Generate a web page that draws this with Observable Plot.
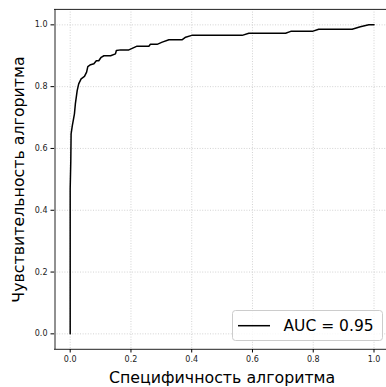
<!DOCTYPE html>
<html>
<head>
<meta charset="utf-8">
<script src="https://cdn.jsdelivr.net/npm/d3@7"></script>
<script src="https://cdn.jsdelivr.net/npm/@observablehq/plot@0.6"></script>
<style>
  html, body { margin: 0; padding: 0; background: #fff; }
  #chart { width: 386px; height: 387px; overflow: hidden; }
  svg { font-family: "DejaVu Sans", sans-serif; }
</style>
</head>
<body>
<div id="chart"></div>
<script>
const fpr = [0, 0, 0.002, 0.003, 0.007, 0.014, 0.017, 0.023, 0.028, 0.036, 0.047, 0.054, 0.058, 0.067, 0.078, 0.086, 0.094, 0.102, 0.111, 0.133, 0.149, 0.152, 0.166, 0.193, 0.204, 0.22, 0.259, 0.264, 0.286, 0.303, 0.325, 0.369, 0.38, 0.40, 0.566, 0.588, 0.709, 0.726, 0.797, 0.818, 0.928, 0.955, 0.983, 1.0];
const tpr = [0, 0.47, 0.56, 0.647, 0.674, 0.712, 0.744, 0.787, 0.809, 0.825, 0.833, 0.847, 0.865, 0.871, 0.874, 0.884, 0.884, 0.895, 0.90, 0.90, 0.906, 0.917, 0.919, 0.919, 0.924, 0.931, 0.931, 0.937, 0.937, 0.944, 0.952, 0.952, 0.96, 0.966, 0.966, 0.973, 0.973, 0.979, 0.979, 0.986, 0.986, 0.994, 1.0, 1.0];
const ticks = [0, 0.2, 0.4, 0.6, 0.8, 1.0];
const xLabel = "Специфичность алгоритма";
const yLabel = "Чувствительность алгоритма";
const legendLabel = "AUC = 0.95";

const data = fpr.map((f, i) => ({fpr: f, tpr: tpr[i]}));

function legendMark(index, scales, values, dimensions) {
  const g = d3.create("svg:g");
  const x0 = 232.5, y0 = 310.5, w = 150, h = 30;
  g.append("rect").attr("x", x0).attr("y", y0).attr("width", w).attr("height", h)
    .attr("rx", 3).attr("fill", "white").attr("fill-opacity", 0.8)
    .attr("stroke", "#cccccc").attr("stroke-width", 1);
  g.append("line").attr("x1", x0 + 5.5).attr("x2", x0 + 37.5)
    .attr("y1", y0 + 15.2).attr("y2", y0 + 15.2)
    .attr("stroke", "black").attr("stroke-width", 1.5);
  g.append("text").attr("x", x0 + 51).attr("y", y0 + 15.2)
    .attr("dy", "0.36em").attr("font-size", 15.5).attr("fill", "black")
    .attr("text-anchor", "start")
    .text(legendLabel);
  return g.node();
}

const plot = Plot.plot({
  width: 386,
  height: 387,
  marginLeft: 54,
  marginRight: 0,
  marginTop: 9,
  marginBottom: 38,
  style: {fontFamily: "DejaVu Sans, sans-serif", background: "white"},
  x: {domain: [-0.05, 1.05], range: [54.5, 388.7]},
  y: {domain: [-0.05, 1.05], range: [348.8, 8.9]},
  marks: [
    Plot.gridX(ticks, {stroke: "#c8c8c8", strokeOpacity: 1, strokeWidth: 0.8, strokeDasharray: "1,1.6"}),
    Plot.gridY(ticks, {stroke: "#c8c8c8", strokeOpacity: 1, strokeWidth: 0.8, strokeDasharray: "1,1.6"}),
    Plot.ruleX([-0.05], {stroke: "#222", strokeWidth: 1}),
    Plot.ruleY([-0.05, 1.05], {stroke: "#222", strokeWidth: 1}),
    Plot.axisX(ticks, {tickFormat: d3.format(".1f"), tickSize: 3.5, tickPadding: 3.5, fontSize: 8, label: null, fill: "#222"}),
    Plot.axisY(ticks, {tickFormat: d3.format(".1f"), tickSize: 3.5, tickPadding: 3.5, fontSize: 8, label: null, fill: "#222"}),
    Plot.line(data, {x: "fpr", y: "tpr", stroke: "black", strokeWidth: 1.5}),
    Plot.text([xLabel], {frameAnchor: "bottom", dx: 1.6, dy: 33, fontSize: 15.8, fill: "black", lineAnchor: "bottom", textAnchor: "middle"}),
    Plot.text([yLabel], {frameAnchor: "left", dx: -36, rotate: -90, fontSize: 15.8, fill: "black", lineAnchor: "middle", textAnchor: "middle"}),
    legendMark
  ]
});
document.getElementById("chart").appendChild(plot);
</script>
</body>
</html>
